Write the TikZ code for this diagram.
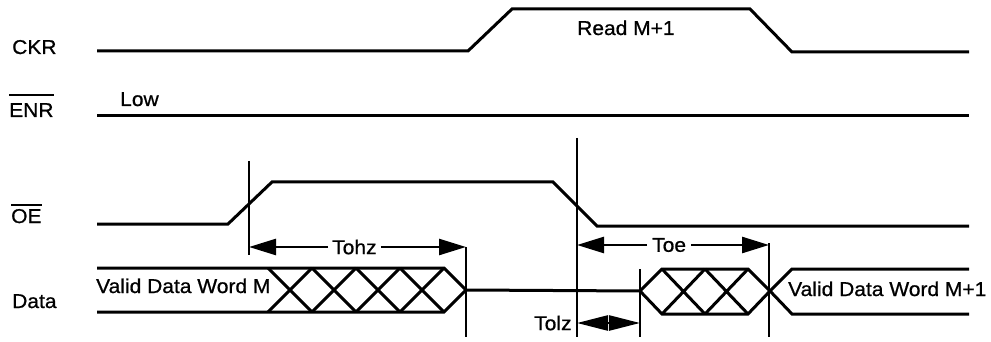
\documentclass[tikz,border=0pt]{standalone}
\usepackage{fontspec}
\setmainfont{Liberation Sans}[FakeStretch=1.05,FakeBold=0.8]
\usetikzlibrary{arrows.meta}
\newcommand\ovbar[2][5pt]{\vbox{\hrule height 2.4pt\kern#1\hbox{#2}}}

\begin{document}
\begin{tikzpicture}[x=1pt,y=-1pt,
  wave/.style={line width=3pt},
  guide/.style={line width=1.8pt},
  lbl/.style={font=\fontsize{20}{24}\selectfont,inner sep=0pt},
  span/.style={line width=2.6pt,-{Triangle[length=27pt,width=16pt]}}]
\useasboundingbox (0,0) rectangle (991,342);
% signal names
\node[lbl,anchor=base west] (ckr) at (12,54) {CKR};
\node[lbl,anchor=base west] (enr) at (9,117) {\ovbar[7pt]{ENR}};
\node[lbl,anchor=base west] (oe) at (11,223) {\ovbar[3pt]{OE}};
\node[lbl,anchor=base west] (data) at (12,308) {Data};
\node[lbl,anchor=base west] (low) at (120,106) {Low};
\node[lbl,anchor=base west] (read) at (577,35) {Read M+1};
\node[lbl,anchor=base west] (wordm) at (96,293) {Valid Data Word M};
\node[lbl,anchor=base west] (wordm1) at (788,296) {Valid Data Word M+1};
% waveforms
\draw[wave] (97,51) -- (468,51) -- (512,9) -- (750,9) -- (792,52) -- (969,52);
\draw[wave] (97,116) -- (969,116);
\draw[wave] (97,224) -- (228,224) -- (272,182) -- (553,182) -- (597,226) -- (969,226);
% data bus
\draw[wave] (97,268) -- (444,268) -- (466,290) -- (444,312) -- (97,312);
\foreach \k in {0,...,3}
  \draw[wave] (268+44*\k,268) -- (312+44*\k,312) (268+44*\k,312) -- (312+44*\k,268);
\draw[wave] (466,290) -- (640,291);
\draw[wave] (640,291) -- (662,269) -- (748,269) -- (770,291) -- (748,314) -- (662,314) -- cycle;
\foreach \k in {0,1}
  \draw[wave] (662+43*\k,269) -- (705+43*\k,314) (662+43*\k,314) -- (705+43*\k,269);
\draw[wave] (969,269) -- (792,269) -- (770,291) -- (792,314) -- (969,314);
% timing guides
\coordinate (g1t) at (249,161); \coordinate (g1b) at (249,255);
\coordinate (g2t) at (466,247); \coordinate (g2b) at (466,337);
\coordinate (g3t) at (577,138); \coordinate (g3b) at (577,337);
\coordinate (g4t) at (640,269); \coordinate (g4b) at (640,337);
\coordinate (g5t) at (769,243); \coordinate (g5b) at (769,337);
\foreach \g in {g1,g2,g3,g4,g5}
  \draw[guide] (\g t) -- (\g b);
% timing parameters
\node[lbl,anchor=west,inner xsep=4pt] (tohz) at (328,247) {Tohz};
\draw[span] (tohz.west) -- (tohz.west -| g1t);
\draw[span] (tohz.east) -- (tohz.east -| g2t);
\node[lbl,anchor=west,inner xsep=5pt] (toe) at (647,245) {Toe};
\draw[span] (toe.west) -- (toe.west -| g3t);
\draw[span] (toe.east) -- (toe.east -| g5t);
\node[lbl,anchor=west] (tolz) at (534,323) {Tolz};
\draw[line width=2.6pt,{Triangle[length=31pt,width=15pt]}-{Triangle[length=31pt,width=15pt]}] (tolz.east -| g3b) -- (tolz.east -| g4b);
\end{tikzpicture}
\end{document}
